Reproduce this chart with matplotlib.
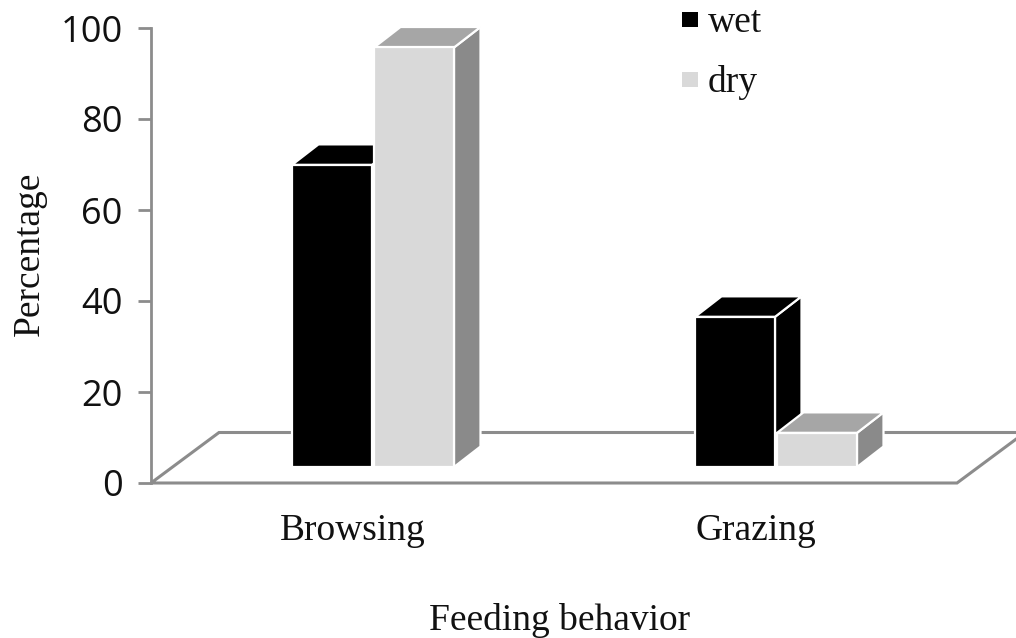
import matplotlib
matplotlib.use("Agg")
import matplotlib.pyplot as plt
from matplotlib.patches import Polygon

categories = ["Browsing", "Grazing"]
series_names = ["wet", "dry"]
wet = [66.4, 33.0]
dry = [92.2, 7.5]
y_ticks = [0, 20, 40, 60, 80, 100]
x_label = "Feeding behavior"
y_label = "Percentage"

W, H = 1016, 638
L, R, T, B = 151, 957, 28, 483
fig = plt.figure(figsize=(W / 100, H / 100), dpi=100)
ax = fig.add_axes([L / W, 1 - B / H, (R - L) / W, (B - T) / H])
ax.set_xlim(0, 2)
ax.set_ylim(0, 100)
ux = (R - L) / 2
uy = (B - T) / 100
GREY = "#8c8c8c"
SERIF = "Liberation Serif"

# floor
fdx, fdy = 68 / ux, 50.5 / uy
ax.add_patch(Polygon([(0, 0), (fdx, fdy), (2 + fdx, fdy), (2, 0)], closed=True,
                     fc="white", ec=GREY, lw=2.2, clip_on=False, zorder=1))

# bars
bw = 80 / ux
gap = 2 / ux
ddx, ddy = 26.5 / ux, 20.5 / uy
base = 16 / uy
shift = 20.5 / ux
styles = [("#000000", "#000000", "#000000"), ("#d9d9d9", "#a6a6a6", "#8a8a8a")]
for i, vals in enumerate([wet, dry]):
    front, top, side = styles[i]
    for c, v in enumerate(vals):
        x0 = c + 0.5 + shift + (i - 1) * bw + (i - 0.5) * gap
        x1 = x0 + bw
        y0, y1 = base, base + v
        z = 3 + i * 2
        kw = dict(closed=True, ec="white", lw=1.6, clip_on=False, zorder=z, joinstyle="miter")
        ax.add_patch(Polygon([(x1, y0), (x1 + ddx, y0 + ddy), (x1 + ddx, y1 + ddy), (x1, y1)], fc=side, **kw))
        ax.add_patch(Polygon([(x0, y1), (x0 + ddx, y1 + ddy), (x1 + ddx, y1 + ddy), (x1, y1)], fc=top, **kw))
        ax.add_patch(Polygon([(x0, y0), (x1, y0), (x1, y1), (x0, y1)], fc=front, **kw))

for s in ["top", "right", "bottom"]:
    ax.spines[s].set_visible(False)
ax.spines["left"].set_color(GREY)
ax.spines["left"].set_linewidth(2)
ax.set_yticks(y_ticks)
ax.set_yticklabels([str(t) for t in y_ticks], fontsize=26, family="Open Sans", color="#111111")
ax.tick_params(axis="y", length=9.5, width=2, color=GREY, pad=11)
ax.set_xticks([0.5, 1.5])
ax.set_xticklabels(categories, fontsize=27, family=SERIF, color="#111111")
ax.tick_params(axis="x", length=0, pad=22)

fig.text(30 / W, 1 - 254 / H, y_label, rotation=90, ha="center", va="center",
         fontsize=27, family=SERIF, color="#111111")
fig.text(560 / W, 1 - 620 / H, x_label, ha="center", va="center",
         fontsize=27, family=SERIF, color="#111111")

# legend
for name, col, yc in zip(series_names, [styles[0][0], styles[1][0]], [19.5, 79.5]):
    ax.add_patch(Polygon([((682 - L) / ux, (B - yc + 7.5) / uy), ((698 - L) / ux, (B - yc + 7.5) / uy),
                          ((698 - L) / ux, (B - yc - 7.5) / uy), ((682 - L) / ux, (B - yc - 7.5) / uy)],
                         closed=True, fc=col, ec="none", clip_on=False, zorder=8))
    fig.text(708 / W, 1 - (yc + 13) / H, name, ha="left", va="baseline",
             fontsize=27, family=SERIF, color="#111111")

fig.savefig("out.png", dpi=100)
